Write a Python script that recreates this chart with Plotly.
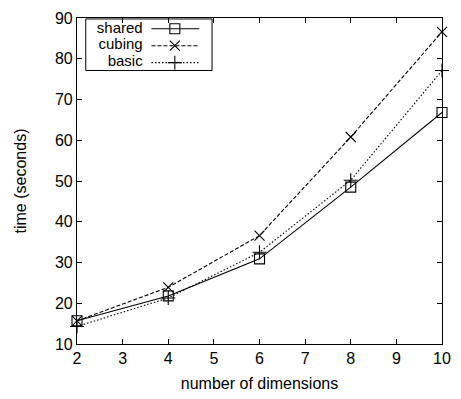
import plotly.graph_objects as go

dims = [2, 4, 6, 8, 10]
shared = [15.7, 21.8, 30.9, 48.5, 66.8]
cubing = [15.7, 23.9, 36.6, 60.8, 86.6]
basic = [14.3, 21.3, 32.5, 50.2, 77.1]

series_names = ["shared", "cubing", "basic"]
series_vals = [shared, cubing, basic]
symbols = ["square-open", "x-thin-open", "cross-thin-open"]
dashes = ["solid", "4px,2px", "1.5px,2px"]

x_ticks = [2, 3, 4, 5, 6, 7, 8, 9, 10]
y_ticks = [10, 20, 30, 40, 50, 60, 70, 80, 90]

FONT = "Liberation Sans, Arial, Helvetica, sans-serif"
FS = 16

fig = go.Figure()
for name, vals, sym, dash in zip(series_names, series_vals, symbols, dashes):
    fig.add_trace(go.Scatter(
        x=dims, y=vals, mode="lines+markers", name=name,
        line=dict(color="black", width=1.1, dash=dash),
        marker=dict(symbol=sym, size=10, color="black", line=dict(color="black", width=1.1)),
        showlegend=False, cliponaxis=False,
    ))

# custom legend (gnuplot style: label right-aligned, sample on the right)
leg_rows = [0.967, 0.915, 0.863]
for name, sym, dash, ry in zip(series_names, symbols, dashes, leg_rows):
    fig.add_trace(go.Scatter(
        x=[0.204, 0.335], y=[ry, ry], mode="lines", xaxis="x2", yaxis="y2",
        line=dict(color="black", width=1.1, dash=dash), showlegend=False, hoverinfo="skip"))
    fig.add_trace(go.Scatter(
        x=[0.268], y=[ry], mode="markers", xaxis="x2", yaxis="y2",
        marker=dict(symbol=sym, size=10, color="black", line=dict(color="black", width=1.1)),
        showlegend=False, hoverinfo="skip"))

fig.add_trace(go.Scatter(
    x=[0.180] * len(series_names), y=leg_rows, mode="text", text=series_names,
    textposition="middle left", xaxis="x2", yaxis="y2",
    textfont=dict(family=FONT, size=15, color="black"),
    showlegend=False, hoverinfo="skip", cliponaxis=False))

fig.add_shape(type="rect", xref="paper", yref="paper", x0=0.024, x1=0.370, y0=0.839, y1=0.997,
              line=dict(color="black", width=1), fillcolor="white", layer="below")

axis_common = dict(showgrid=False, zeroline=False, showline=True, linecolor="black", linewidth=1.2,
                   mirror="ticks", ticks="inside", ticklen=5, tickcolor="black", tickwidth=1,
                   tickfont=dict(family=FONT, size=FS, color="black"))

fig.update_layout(
    width=461, height=399,
    margin=dict(l=77, r=11, t=10, b=54),
    paper_bgcolor="white", plot_bgcolor="white",
    font=dict(family=FONT, size=FS, color="black"),
    xaxis=dict(range=[2, 10], tickvals=x_ticks, ticktext=[str(v) for v in x_ticks],
               title=dict(text="number of dimensions", font=dict(family=FONT, size=FS), standoff=11),
               **axis_common),
    yaxis=dict(range=[10, 90], tickvals=y_ticks, ticktext=[str(v) for v in y_ticks],
               title=dict(text="time (seconds)", font=dict(family=FONT, size=FS), standoff=24),
               **axis_common),
    xaxis2=dict(range=[0, 1], domain=[0, 1], overlaying="x", visible=False, fixedrange=True),
    yaxis2=dict(range=[0, 1], domain=[0, 1], overlaying="y", visible=False, fixedrange=True),
)

fig.write_html("out.html")
